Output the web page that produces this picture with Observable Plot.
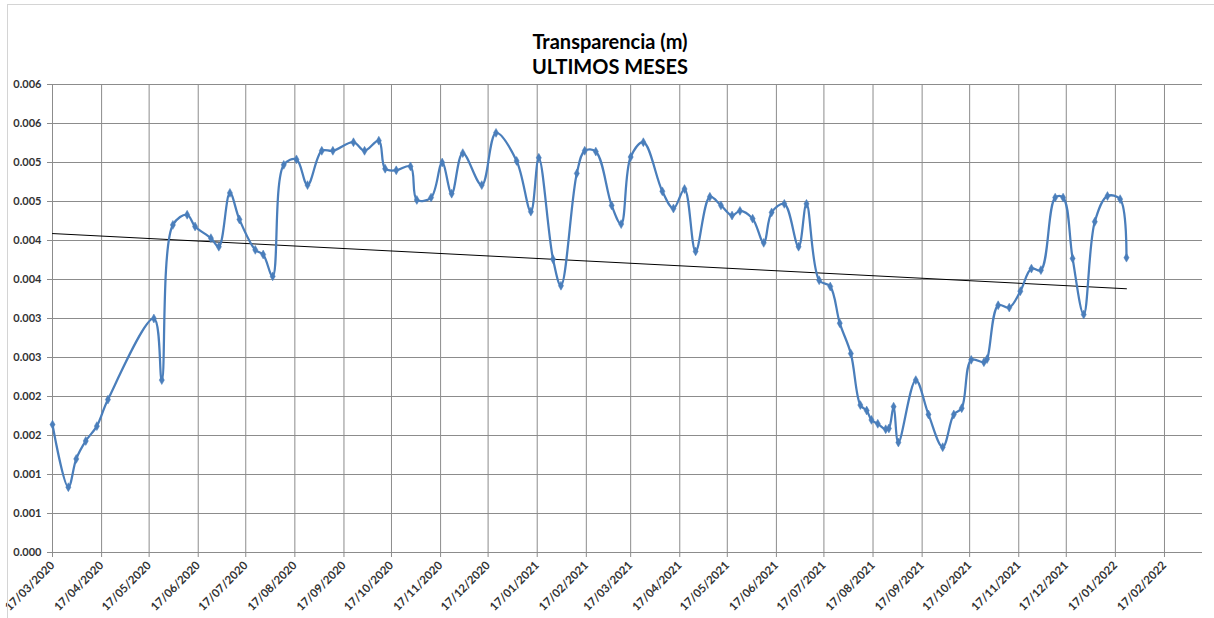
<!DOCTYPE html>
<html>
<head>
<meta charset="utf-8">
<script src="https://cdn.jsdelivr.net/npm/d3@7"></script>
<script src="https://cdn.jsdelivr.net/npm/@observablehq/plot@0.6"></script>
<style>
  html, body { margin: 0; padding: 0; background: #fff; }
  #wrap { position: relative; width: 1214px; height: 618px; overflow: hidden; }
  #frame { position: absolute; left: 7px; top: 4px; right: 0; bottom: 0; border-left: 1px solid #d4d4d4; border-top: 1px solid #d4d4d4; pointer-events: none; }
  #title { position: absolute; left: 0; width: 1220px; top: 29px; text-align: center; font-family: Lato, "Open Sans", sans-serif; font-weight: bold; font-size: 20px; line-height: 25px; color: #000; }
</style>
</head>
<body>
<div id="wrap">
  <div id="chart"></div>
  <div id="frame"></div>
  <div id="title">Transparencia (m)<br>ULTIMOS MESES</div>
</div>
<script>
const dates = [
  "2020-03-17","2020-03-27","2020-04-01","2020-04-07","2020-04-14","2020-04-21","2020-05-20","2020-05-25",
  "2020-06-01","2020-06-10","2020-06-15","2020-06-25","2020-06-30","2020-07-07","2020-07-13","2020-07-23",
  "2020-07-28","2020-08-03","2020-08-10","2020-08-18","2020-08-25","2020-09-03","2020-09-10","2020-09-23",
  "2020-09-30","2020-10-09","2020-10-13","2020-10-20","2020-10-29","2020-11-02","2020-11-11","2020-11-18",
  "2020-11-24","2020-12-01","2020-12-13","2020-12-22","2021-01-04","2021-01-13","2021-01-18","2021-01-27",
  "2021-02-01","2021-02-11","2021-02-16","2021-02-23","2021-03-05","2021-03-11","2021-03-17","2021-03-25",
  "2021-04-06","2021-04-13","2021-04-20","2021-04-27","2021-05-06","2021-05-13","2021-05-20","2021-05-25",
  "2021-06-02","2021-06-09","2021-06-14","2021-06-22","2021-07-01","2021-07-06","2021-07-14","2021-07-21",
  "2021-07-27","2021-08-03","2021-08-09","2021-08-13","2021-08-16","2021-08-20","2021-08-25","2021-08-27",
  "2021-08-30","2021-09-02","2021-09-13","2021-09-21","2021-09-30","2021-10-07","2021-10-12","2021-10-18",
  "2021-10-26","2021-10-28","2021-11-04","2021-11-11","2021-11-18","2021-11-25","2021-12-01","2021-12-10",
  "2021-12-15","2021-12-21","2021-12-28","2022-01-04","2022-01-12","2022-01-20","2022-01-24"
];
const values = [
  0.00164,0.000837,0.00120,0.00143,0.00162,0.00196,0.00300,0.00221,
  0.00420,0.00433,0.00418,0.00403,0.00392,0.00461,0.00427,0.00388,
  0.00382,0.00354,0.00497,0.00504,0.00471,0.00515,0.00515,0.00526,
  0.00515,0.00528,0.00492,0.00490,0.00495,0.00452,0.00455,0.00500,
  0.00460,0.00512,0.00471,0.00538,0.00502,0.00437,0.00506,0.00376,
  0.00342,0.00486,0.00515,0.00514,0.00445,0.00421,0.00507,0.00526,
  0.00463,0.00441,0.00466,0.00386,0.00456,0.00445,0.00432,0.00438,
  0.00428,0.00397,0.00436,0.00447,0.00392,0.00447,0.00349,0.00341,
  0.00294,0.00255,0.00189,0.00182,0.00170,0.00165,0.00158,0.00159,
  0.00187,0.00141,0.00221,0.00177,0.00135,0.00177,0.00185,0.00247,
  0.00244,0.00248,0.00317,0.00314,0.00335,0.00364,0.00362,0.00455,
  0.00455,0.00377,0.00305,0.00424,0.00457,0.00453,0.00378
];
const xTickDates = [
  "2020-03-17","2020-04-17","2020-05-17","2020-06-17","2020-07-17","2020-08-17","2020-09-17","2020-10-17",
  "2020-11-17","2020-12-17","2021-01-17","2021-02-17","2021-03-17","2021-04-17","2021-05-17","2021-06-17",
  "2021-07-17","2021-08-17","2021-09-17","2021-10-17","2021-11-17","2021-12-17","2022-01-17","2022-02-17"
];
const xDomain = ["2020-03-17", "2022-03-13"];
const yTicks = [0, 0.0005, 0.001, 0.0015, 0.002, 0.0025, 0.003, 0.0035, 0.004, 0.0045, 0.005, 0.0055, 0.006];
const yTickLabels = ["0.000","0.001","0.001","0.002","0.002","0.003","0.003","0.004","0.004","0.005","0.005","0.006","0.006"];

const parse = d3.utcParse("%Y-%m-%d");
const data = dates.map((d, i) => ({date: parse(d), value: values[i]}));
const xTicks = xTickDates.map(parse);
const yLabel = new Map(yTicks.map((t, i) => [t, yTickLabels[i]]));
const fmt = d3.utcFormat("%d/%m/%Y");
const grid = "#8c8c8c";
const blue = "#4A7EBB";

const chart = Plot.plot({
  width: 1214,
  height: 618,
  marginTop: 84,
  marginLeft: 52,
  marginRight: 12,
  marginBottom: 66,
  style: {fontFamily: "Lato, 'Open Sans', sans-serif", fontSize: "11px", fontWeight: "bold", color: "#333", background: "transparent"},
  x: {type: "utc", domain: xDomain.map(parse)},
  y: {domain: [yTicks[0], yTicks[yTicks.length - 1]]},
  marks: [
    Plot.gridY(yTicks, {stroke: grid, strokeOpacity: 1}),
    Plot.gridX(xTicks, {stroke: grid, strokeOpacity: 1}),
    Plot.axisY(yTicks, {tickFormat: d => yLabel.get(d), tickSize: 5, tickPadding: 6, stroke: grid, label: null, fontSize: 11}),
    Plot.axisX(xTicks, {tickFormat: fmt, tickRotate: -45, tickSize: 5, tickPadding: 6, stroke: grid, label: null, fontSize: 11.5}),
    Plot.ruleY([yTicks[0]], {stroke: grid}),
    Plot.ruleX([parse(xDomain[0])], {stroke: grid}),
    Plot.linearRegressionY(data, {x: "date", y: "value", stroke: "black", strokeWidth: 1, ci: 0}),
    Plot.line(data, {x: "date", y: "value", curve: "catmull-rom", stroke: blue, strokeWidth: 2.25}),
    Plot.dot(data, {x: "date", y: "value", symbol: "diamond", r: 2.7, fill: blue, stroke: blue, strokeWidth: 0.5})
  ]
});
document.getElementById("chart").appendChild(chart);
</script>
</body>
</html>
